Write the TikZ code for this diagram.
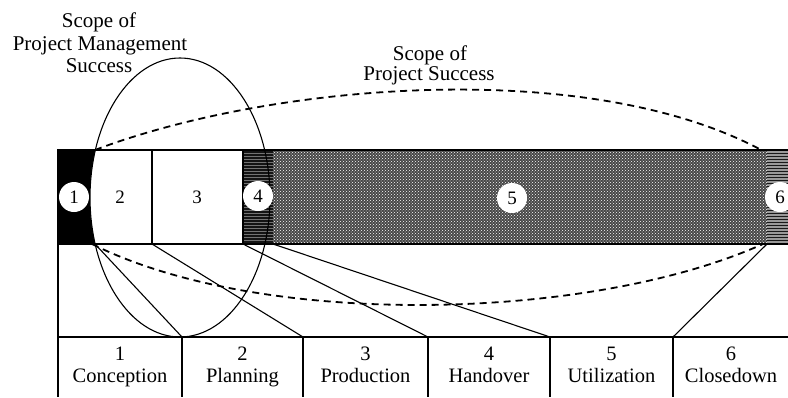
\documentclass[tikz,border=0pt]{standalone}
\usepackage{fontspec}
\setmainfont{Liberation Serif}
\usetikzlibrary{patterns}
\begin{document}
\begin{tikzpicture}[x=1pt,y=-1pt,
  rule/.style={line width=1.1pt},
  lens/.style={line width=1.8pt, dash pattern=on 7pt off 5pt},
  num/.style={circle, fill=white, inner sep=0pt, minimum size=30pt, font=\fontsize{19}{19}\selectfont},
  plain/.style={inner sep=0pt, font=\fontsize{19}{19}\selectfont},
  lbl/.style={font=\fontsize{21}{22}\selectfont, anchor=base, inner sep=0pt},
  phase/.style={font=\fontsize{20.5}{21}\selectfont, anchor=base, inner sep=0pt}]
\clip (0,0) rectangle (788,397);

% scope of project success (dashed lens, behind the bar)
\coordinate (lensTL) at (95,150);
\coordinate (lensTR) at (765,152);
\coordinate (lensBL) at (92,244);
\coordinate (lensBR) at (763,244);
\draw[lens] (lensTL) .. controls (270,83.5) and (590,55.7) .. (lensTR);
\draw[lens] (lensBL) .. controls (263,329.5) and (592,321) .. (lensBR);

% life-cycle bar
\fill[black] (58,150) rectangle (100,244);
\begin{scope}
  \clip (58,150) rectangle (152,244);
  \fill[white] (180,197.5) ellipse [x radius=90pt, y radius=139.5pt];
\end{scope}
\fill[black!92] (243,150) rectangle (273,244);
\fill[pattern=horizontal lines, pattern color=black!55] (243,150) rectangle (273,244);
\fill[black!72] (273,150) rectangle (767,244);
\fill[pattern=crosshatch dots, pattern color=white] (273,150) rectangle (767,244);
\fill[black!40] (767,150) rectangle (790,244);
\fill[pattern=horizontal lines, pattern color=black!90] (767,150) rectangle (790,244);
\draw[line width=1.4pt] (58,150) rectangle (792,244);
\draw[rule] (152,150) -- (152,244);
\draw[rule] (243,150) -- (243,244);

% scope of project management success
\draw[rule] (180,197.5) ellipse [x radius=90pt, y radius=139.5pt];

% phase numbers in the bar
\node[num] (c1) at (74,197) {1};
\node[plain] (n2) at (120,197) {2};
\node[plain] (n3) at (197,197) {3};
\node[num] (c4) at (258,196) {4};
\node[num] (c5) at (512,198) {5};
\node[num] (c6) at (780,197) {6};

% time axis
\coordinate (axL) at (58,337);
\coordinate (axR) at (788,337);
\coordinate (barL) at (58,244);
\coordinate (bot0) at (58,397);
\draw[rule] (barL) -- (bot0);
\draw[rule] (axL) -- (axR);
\foreach \x [count=\i] in {182,303,428,550,673}
  \draw[rule] (\x,337) coordinate (t\i) -- (\x,397) coordinate (d\i);

% connectors from bar boundaries to the axis
\coordinate (e1) at (95,244);
\coordinate (e2) at (152,244);
\coordinate (e3) at (243,244);
\coordinate (e4) at (273,244);
\coordinate (e5) at (767,244);
\draw[rule] (e1) -- (t1);
\draw[rule] (e2) -- (t2);
\draw[rule] (e3) -- (t3);
\draw[rule] (e4) -- (t4);
\draw[rule] (e5) -- (t5);

% phase labels
\foreach \x/\n/\name in {120/1/Conception,242.5/2/Planning,365.5/3/Production,489/4/Handover,611.5/5/Utilization,731/6/Closedown}{
  \node[phase] (pn\n) at (\x,360) {\n};
  \node[phase] (pl\n) at (\x,382) {\name};
}

% titles
\node[lbl] (pm1) at (99,27) {Scope of};
\node[lbl] (pm2) at (100,50) {Project Management};
\node[lbl] (pm3) at (99,72) {Success};
\node[lbl] (ps1) at (430,60) {Scope of};
\node[lbl] (ps2) at (429,80) {Project Success};
\end{tikzpicture}
\end{document}
